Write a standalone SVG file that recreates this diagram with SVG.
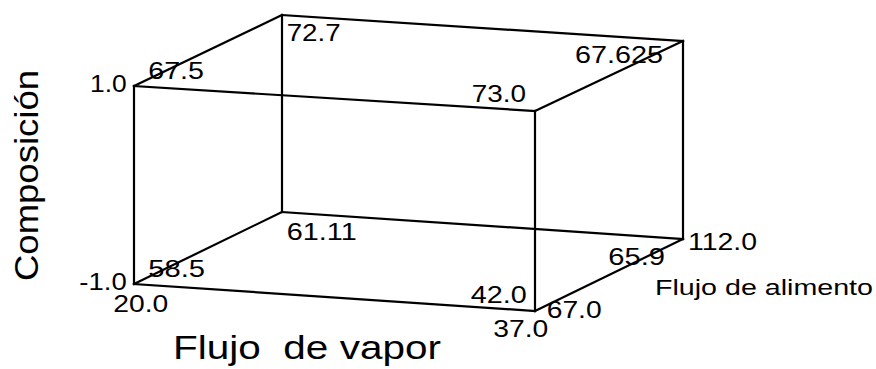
<svg xmlns="http://www.w3.org/2000/svg" width="876" height="369" viewBox="0 0 876 369">
  <style>
    .edge { stroke: #000; stroke-width: 2.2; fill: none; stroke-linecap: square; }
    .num { font-family: "Liberation Sans", Arial, sans-serif; font-size: 24px; fill: #000; }
    .axis { font-family: "Liberation Sans", Arial, sans-serif; font-size: 33.5px; fill: #000; white-space: pre; }
    .small { font-family: "Liberation Sans", Arial, sans-serif; font-size: 22px; fill: #000; }
  </style>
  <rect width="876" height="369" fill="#fff"/>
  <g id="connectors">
    <line class="edge" x1="134" y1="86" x2="535" y2="111"/>
    <line class="edge" x1="134" y1="284" x2="535" y2="311"/>
    <line class="edge" x1="282" y1="15" x2="683" y2="41"/>
    <line class="edge" x1="282" y1="212" x2="683" y2="239"/>
    <line class="edge" x1="134" y1="86" x2="134" y2="284"/>
    <line class="edge" x1="535" y1="111" x2="535" y2="311"/>
    <line class="edge" x1="282" y1="15" x2="282" y2="212"/>
    <line class="edge" x1="683" y1="41" x2="683" y2="239"/>
    <line class="edge" x1="134" y1="86" x2="282" y2="15"/>
    <line class="edge" x1="535" y1="111" x2="683" y2="41"/>
    <line class="edge" x1="134" y1="284" x2="282" y2="212"/>
    <line class="edge" x1="535" y1="311" x2="683" y2="239"/>
  </g>
  <g id="labels">
    <text class="num" x="90" y="91.7" textLength="36.7" lengthAdjust="spacingAndGlyphs">1.0</text>
    <text class="num" x="148.3" y="79.3" textLength="55.7" lengthAdjust="spacingAndGlyphs">67.5</text>
    <text class="num" x="286.7" y="40.7" textLength="54" lengthAdjust="spacingAndGlyphs">72.7</text>
    <text class="num" x="575" y="63.3" textLength="88" lengthAdjust="spacingAndGlyphs">67.625</text>
    <text class="num" x="471.7" y="101.7" textLength="54.3" lengthAdjust="spacingAndGlyphs">73.0</text>
    <text class="num" x="79.3" y="290" textLength="47.4" lengthAdjust="spacingAndGlyphs">-1.0</text>
    <text class="num" x="148.3" y="276.7" textLength="56.7" lengthAdjust="spacingAndGlyphs">58.5</text>
    <text class="num" x="113.3" y="311.7" textLength="55" lengthAdjust="spacingAndGlyphs">20.0</text>
    <text class="num" x="286.7" y="240" textLength="70" lengthAdjust="spacingAndGlyphs">61.11</text>
    <text class="num" x="470.7" y="303.3" textLength="56" lengthAdjust="spacingAndGlyphs">42.0</text>
    <text class="num" x="493.3" y="336.7" textLength="55" lengthAdjust="spacingAndGlyphs">37.0</text>
    <text class="num" x="546.7" y="318.3" textLength="55" lengthAdjust="spacingAndGlyphs">67.0</text>
    <text class="num" x="608.3" y="265" textLength="56.7" lengthAdjust="spacingAndGlyphs">65.9</text>
    <text class="num" x="688" y="250" textLength="69" lengthAdjust="spacingAndGlyphs">112.0</text>
  </g>
  <g id="axis-titles">
    <text class="small" x="655" y="295" textLength="218" lengthAdjust="spacingAndGlyphs">Flujo de alimento</text>
    <text class="axis" x="173" y="359.3" xml:space="preserve" textLength="268" lengthAdjust="spacingAndGlyphs">Flujo  de vapor</text>
    <text class="axis" transform="translate(38,281) rotate(-90)" x="0" y="0" textLength="211" lengthAdjust="spacingAndGlyphs">Composición</text>
  </g>
</svg>
